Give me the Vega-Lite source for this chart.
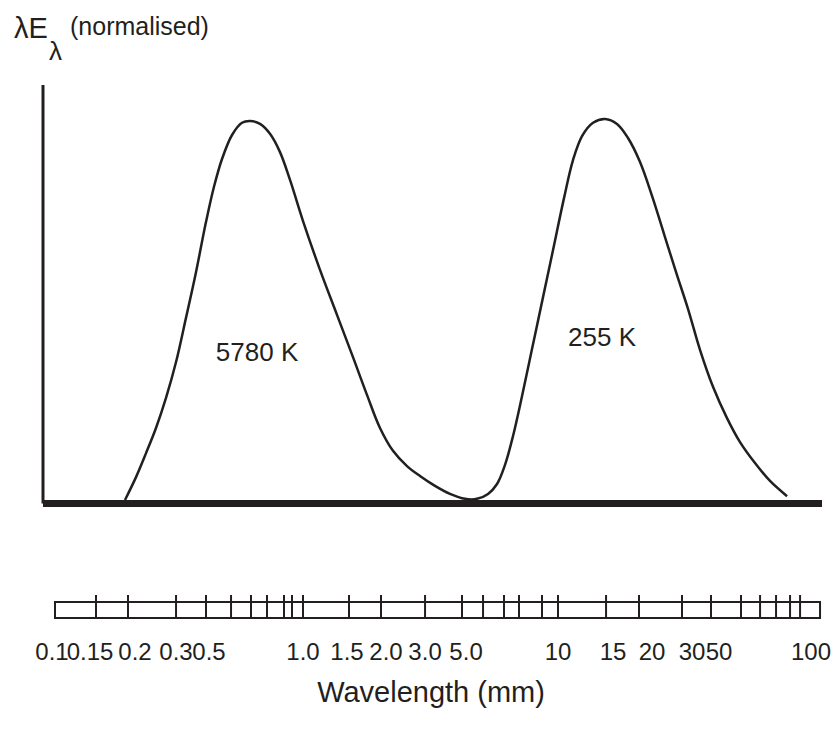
{
  "$schema": "https://vega.github.io/schema/vega-lite/v6.json",
  "width": 840,
  "height": 742,
  "padding": 0,
  "autosize": {"type": "fit", "contains": "padding"},
  "config": {"view": {"stroke": null}, "text": {"font": "Liberation Sans, Arial", "color": "#231f20"}},
  "datasets": {
    "one": [{}],
    "curve": [
      {"pos": 9.15, "v": 0.0}, {"pos": 10.59, "v": 0.06}, {"pos": 11.9, "v": 0.123}, {"pos": 13.2, "v": 0.189},
      {"pos": 14.51, "v": 0.268}, {"pos": 15.82, "v": 0.362}, {"pos": 17.12, "v": 0.478}, {"pos": 18.43, "v": 0.598},
      {"pos": 19.74, "v": 0.73}, {"pos": 20.78, "v": 0.822}, {"pos": 21.83, "v": 0.895}, {"pos": 23.14, "v": 0.958},
      {"pos": 24.44, "v": 0.99}, {"pos": 25.49, "v": 0.995}, {"pos": 26.8, "v": 0.987}, {"pos": 28.1, "v": 0.961},
      {"pos": 29.41, "v": 0.913}, {"pos": 30.72, "v": 0.84}, {"pos": 32.42, "v": 0.732}, {"pos": 34.64, "v": 0.604},
      {"pos": 36.86, "v": 0.486}, {"pos": 38.95, "v": 0.375}, {"pos": 40.78, "v": 0.276}, {"pos": 42.48, "v": 0.189},
      {"pos": 44.18, "v": 0.129}, {"pos": 46.01, "v": 0.089}, {"pos": 47.71, "v": 0.063}, {"pos": 49.67, "v": 0.037},
      {"pos": 51.63, "v": 0.016}, {"pos": 53.59, "v": 0.003}, {"pos": 55.16, "v": 0.003}, {"pos": 56.6, "v": 0.016},
      {"pos": 57.78, "v": 0.042}, {"pos": 58.82, "v": 0.092}, {"pos": 59.87, "v": 0.168}, {"pos": 61.05, "v": 0.273},
      {"pos": 62.35, "v": 0.396}, {"pos": 63.66, "v": 0.52}, {"pos": 65.1, "v": 0.656}, {"pos": 66.54, "v": 0.793},
      {"pos": 67.71, "v": 0.892}, {"pos": 68.89, "v": 0.955}, {"pos": 70.33, "v": 0.99}, {"pos": 71.9, "v": 1.0},
      {"pos": 73.46, "v": 0.987}, {"pos": 74.9, "v": 0.95}, {"pos": 76.47, "v": 0.887}, {"pos": 78.04, "v": 0.798},
      {"pos": 79.61, "v": 0.698}, {"pos": 81.18, "v": 0.598}, {"pos": 82.75, "v": 0.501}, {"pos": 84.31, "v": 0.394},
      {"pos": 86.01, "v": 0.297}, {"pos": 87.84, "v": 0.215}, {"pos": 89.54, "v": 0.152}, {"pos": 91.5, "v": 0.097},
      {"pos": 93.46, "v": 0.05}, {"pos": 95.69, "v": 0.01}
    ],
    "ticks": [
      {"pos": 5.36}, {"pos": 9.54}, {"pos": 15.82}, {"pos": 19.74}, {"pos": 23.01}, {"pos": 25.62}, {"pos": 27.71},
      {"pos": 29.93}, {"pos": 30.98}, {"pos": 32.42}, {"pos": 38.43}, {"pos": 42.61}, {"pos": 48.37}, {"pos": 53.2},
      {"pos": 55.95}, {"pos": 58.69}, {"pos": 60.65}, {"pos": 63.66}, {"pos": 65.75}, {"pos": 72.03}, {"pos": 76.34},
      {"pos": 81.96}, {"pos": 85.75}, {"pos": 89.67}, {"pos": 92.16}, {"pos": 94.25}, {"pos": 96.08}, {"pos": 97.39}
    ],
    "labels": [
      {"pos": -0.39, "label": "0.1"}, {"pos": 4.58, "label": "0.15"}, {"pos": 10.46, "label": "0.2"},
      {"pos": 15.82, "label": "0.3"}, {"pos": 20.13, "label": "0.5"}, {"pos": 32.42, "label": "1.0"},
      {"pos": 38.17, "label": "1.5"}, {"pos": 43.27, "label": "2.0"}, {"pos": 48.37, "label": "3.0"},
      {"pos": 53.73, "label": "5.0"}, {"pos": 65.75, "label": "10"}, {"pos": 72.94, "label": "15"},
      {"pos": 78.04, "label": "20"}, {"pos": 83.27, "label": "30"}, {"pos": 86.8, "label": "50"},
      {"pos": 98.82, "label": "100"}
    ]
  },
  "layer": [
    {
      "data": {"name": "one"},
      "mark": {"type": "rule", "color": "#231f20", "strokeWidth": 3},
      "encoding": {
        "x": {"datum": -1.569, "type": "quantitative", "scale": {"domain": [-7.19, 102.61], "nice": false, "zero": false}, "axis": null},
        "y": {"datum": 1.089, "type": "quantitative", "scale": {"domain": [-0.6352, 1.3123], "nice": false, "zero": false}, "axis": null},
        "y2": {"datum": -0.0092}
      }
    },
    {
      "data": {"name": "one"},
      "mark": {"type": "rule", "color": "#231f20", "strokeWidth": 7},
      "encoding": {
        "x": {"datum": -1.569, "type": "quantitative"},
        "x2": {"datum": 100.26},
        "y": {"datum": -0.0092, "type": "quantitative"}
      }
    },
    {
      "data": {"name": "curve"},
      "mark": {"type": "line", "color": "#231f20", "strokeWidth": 2.5, "interpolate": "catmull-rom"},
      "encoding": {
        "x": {"field": "pos", "type": "quantitative"},
        "y": {"field": "v", "type": "quantitative"}
      }
    },
    {
      "data": {"name": "one"},
      "mark": {"type": "rect", "fill": "white", "stroke": "#231f20", "strokeWidth": 2},
      "encoding": {
        "x": {"datum": 0, "type": "quantitative"},
        "x2": {"datum": 100},
        "y": {"datum": -0.2677, "type": "quantitative"},
        "y2": {"datum": -0.3097}
      }
    },
    {
      "data": {"name": "ticks"},
      "mark": {"type": "rule", "color": "#231f20", "strokeWidth": 2},
      "encoding": {
        "x": {"field": "pos", "type": "quantitative"},
        "y": {"datum": -0.2493, "type": "quantitative"},
        "y2": {"datum": -0.3097}
      }
    },
    {
      "data": {"name": "labels"},
      "mark": {"type": "text", "fontSize": 24, "baseline": "middle", "align": "center"},
      "encoding": {
        "x": {"field": "pos", "type": "quantitative"},
        "y": {"datum": -0.4016, "type": "quantitative"},
        "text": {"field": "label"}
      }
    },
    {
      "data": {"name": "one"},
      "mark": {"type": "text", "fontSize": 29, "baseline": "alphabetic", "align": "center", "text": "Wavelength (mm)"},
      "encoding": {
        "x": {"datum": 49.15, "type": "quantitative"},
        "y": {"datum": -0.53, "type": "quantitative"}
      }
    },
    {
      "data": {"name": "one"},
      "mark": {"type": "text", "fontSize": 29, "baseline": "alphabetic", "align": "left", "text": "λE"},
      "encoding": {
        "x": {"datum": -5.36, "type": "quantitative"},
        "y": {"datum": 1.2126, "type": "quantitative"}
      }
    },
    {
      "data": {"name": "one"},
      "mark": {"type": "text", "fontSize": 26, "baseline": "alphabetic", "align": "left", "text": "λ"},
      "encoding": {
        "x": {"datum": -0.78, "type": "quantitative"},
        "y": {"datum": 1.1549, "type": "quantitative"}
      }
    },
    {
      "data": {"name": "one"},
      "mark": {"type": "text", "fontSize": 25, "baseline": "alphabetic", "align": "left", "text": "(normalised)"},
      "encoding": {
        "x": {"datum": 1.96, "type": "quantitative"},
        "y": {"datum": 1.2205, "type": "quantitative"}
      }
    },
    {
      "data": {"name": "one"},
      "mark": {"type": "text", "fontSize": 26, "baseline": "middle", "align": "center", "text": "5780 K"},
      "encoding": {
        "x": {"datum": 26.41, "type": "quantitative"},
        "y": {"datum": 0.3858, "type": "quantitative"}
      }
    },
    {
      "data": {"name": "one"},
      "mark": {"type": "text", "fontSize": 26, "baseline": "middle", "align": "center", "text": "255 K"},
      "encoding": {
        "x": {"datum": 71.5, "type": "quantitative"},
        "y": {"datum": 0.4252, "type": "quantitative"}
      }
    }
  ]
}
